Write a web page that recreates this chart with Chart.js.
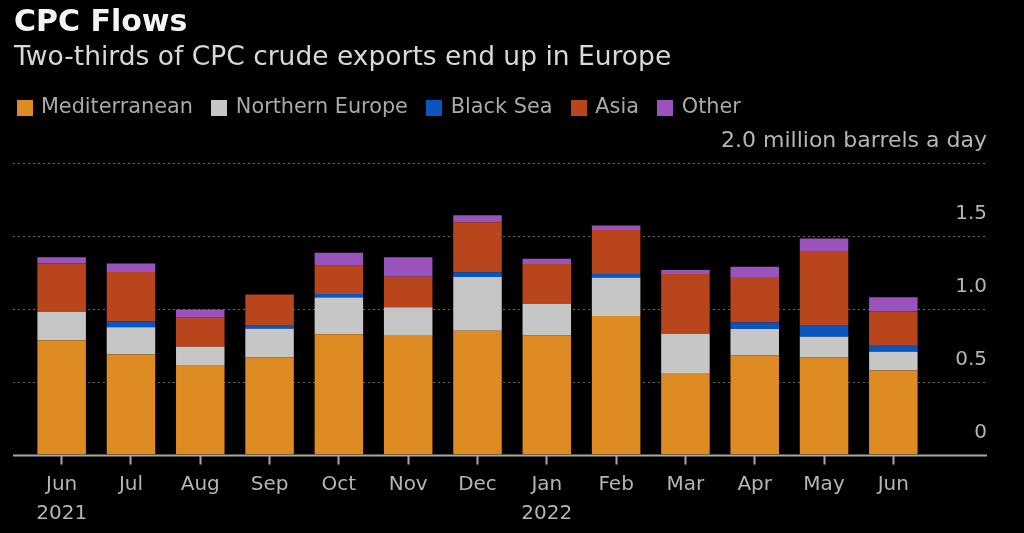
<!DOCTYPE html>
<html><head><meta charset="utf-8">
<style>html,body{margin:0;padding:0;background:#000;overflow:hidden}#w{width:1024px;height:533px}</style>
<script src="https://cdn.jsdelivr.net/npm/chart.js@4"></script>
</head><body><div id="w"><canvas id="c" width="1024" height="533"></canvas></div>
<script>
const categories=[["Jun","2021"],"Jul","Aug","Sep","Oct","Nov","Dec",["Jan","2022"],"Feb","Mar","Apr","May","Jun"];
const mediterranean=[0.785,0.687,0.609,0.667,0.826,0.815,0.849,0.818,0.950,0.559,0.680,0.667,0.576];
const northernEurope=[0.194,0.187,0.130,0.196,0.252,0.195,0.370,0.217,0.263,0.270,0.182,0.141,0.129];
const blackSea=[0,0.041,0,0.021,0.023,0,0.032,0,0.025,0,0.044,0.075,0.046];
const asia=[0.334,0.338,0.199,0.215,0.194,0.210,0.343,0.272,0.302,0.409,0.313,0.514,0.231];
const other=[0.041,0.058,0.058,0,0.089,0.133,0.048,0.036,0.032,0.029,0.069,0.085,0.098];
const yTicks=[0,0.5,1,1.5,2];
const FONT="'DejaVu Sans'";
function swatch(color){
  const s=document.createElement('canvas');s.width=16;s.height=16;
  const g=s.getContext('2d');g.fillStyle=color;g.fillRect(0,0,16,16);return s;
}
function spacer(position,size,weight){
  return {position,weight,fullSize:false,options:{},
    isHorizontal(){return position==='top'||position==='bottom';},
    update(w,h){this.width=this.isHorizontal()?w:size;this.height=this.isHorizontal()?size:h;},
    draw(){}};
}
const layoutTweaks={
  id:'layoutTweaks',
  beforeInit(ch){
    Chart.layouts.addBox(ch,spacer('top',35,500));
    Chart.layouts.addBox(ch,spacer('left',13,500));
  },
  afterLayout(ch){ch.legend.left=-2;}
};
const gridSpan={
  id:'gridSpan',
  beforeDatasetsDraw(ch){
    const y=ch.scales.y,g=ch.ctx;
    g.save();
    yTicks.forEach(v=>{
      const p=Math.round(y.getPixelForValue(v))+0.5;
      g.beginPath();
      g.moveTo(13,p);g.lineTo(987,p);
      if(v===0){g.setLineDash([]);g.strokeStyle='#a8a8a8';g.lineWidth=2;}
      else{g.setLineDash([2,3]);g.strokeStyle='#666666';g.lineWidth=1.2;}
      g.stroke();
    });
    g.restore();
  }
};
new Chart(document.getElementById('c'),{
  type:'bar',
  data:{labels:categories,datasets:[
    {label:'Mediterranean',data:mediterranean,backgroundColor:'#DE8B24'},
    {label:'Northern Europe',data:northernEurope,backgroundColor:'#C6C6C6'},
    {label:'Black Sea',data:blackSea,backgroundColor:'#0B56BE'},
    {label:'Asia',data:asia,backgroundColor:'#B9451D'},
    {label:'Other',data:other,backgroundColor:'#9A52BD'}
  ]},
  plugins:[layoutTweaks,gridSpan],
  options:{
    responsive:false,animation:false,devicePixelRatio:1,
    layout:{padding:{left:14,right:37,top:5,bottom:0}},
    datasets:{bar:{categoryPercentage:1,barPercentage:0.7,borderWidth:0}},
    plugins:{
      tooltip:{enabled:false},
      title:{display:true,text:'CPC Flows',align:'start',color:'#f4f4f4',font:{family:FONT,size:30,weight:'bold'},padding:{top:0,bottom:1}},
      subtitle:{display:true,text:'Two-thirds of CPC crude exports end up in Europe',align:'start',color:'#d8d8d8',font:{family:FONT,size:26.5},padding:{top:0,bottom:3}},
      legend:{display:true,position:'top',align:'start',labels:{color:'#a9a9a9',font:{family:FONT,size:20.8},usePointStyle:true,pointStyleWidth:12,boxHeight:16,padding:20.5,
        generateLabels(ch){
          return Chart.defaults.plugins.legend.labels.generateLabels(ch).map((l,i)=>{
            l.pointStyle=swatch(ch.data.datasets[i].backgroundColor);return l;});
        }}}
    },
    scales:{
      x:{stacked:true,
        afterFit(s){s.height=78.5;},
        border:{display:false},
        grid:{display:true,offset:false,drawOnChartArea:false,drawTicks:true,tickLength:10,tickColor:'#a8a8a8',tickWidth:2},
        ticks:{color:'#b5b5b5',font:{family:FONT,size:20,lineHeight:1.45},maxRotation:0,autoSkip:false,padding:6}},
      y:{stacked:true,position:'right',min:0,max:2,
        afterBuildTicks(s){s.ticks=yTicks.map(v=>({value:v}));},
        afterFit(s){s.width=59;},
        border:{display:false},
        grid:{display:false,drawTicks:false},
        ticks:{color:'#b5b5b5',font:c=>({family:FONT,size:c.tick&&c.tick.value===2?22:20}),mirror:true,crossAlign:'near',padding:59,labelOffset:-22,
          callback:v=>v===0?'0':v===2?'2.0 million barrels a day':v.toFixed(1)}}
    }
  }
});
</script></body></html>
